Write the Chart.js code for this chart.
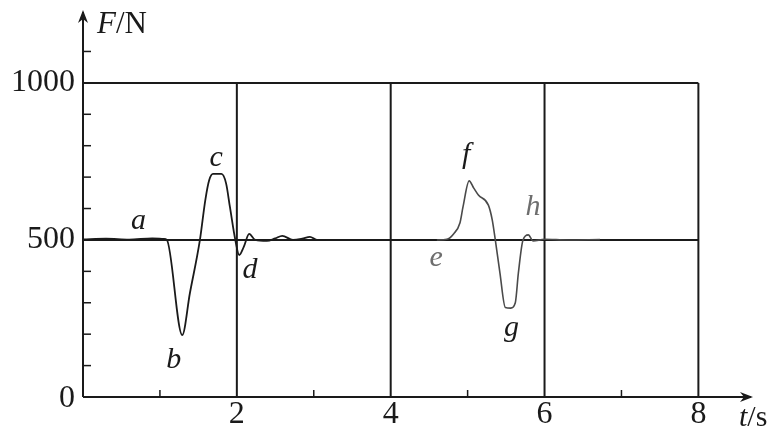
<!DOCTYPE html>
<html>
<head>
<meta charset="utf-8">
<script src="https://cdn.jsdelivr.net/npm/chart.js@4/dist/chart.umd.min.js"></script>
<style>
  body { margin: 0; background: #fff; }
  #wrap { width: 773px; height: 432px; }
</style>
</head>
<body>
<div id="wrap"><canvas id="myChart" width="773" height="432"></canvas></div>
<script>
'use strict';
// first pulse: a -> b -> c -> d
let timeA = [0, 0.3, 0.6, 0.9, 1.05, 1.09, 1.29, 1.39, 1.52, 1.59, 1.64, 1.69, 1.8, 1.86, 1.91, 1.98, 2.03, 2.09, 2.16, 2.24, 2.39, 2.5, 2.59, 2.73, 2.85, 2.95, 3.04, 3.15];
let forceA = [502, 504, 501, 505, 503, 500, 197, 331, 500, 627, 690, 710, 710, 680, 605, 500, 452, 478, 519, 500, 497, 505, 513, 500, 504, 510, 500, 500];
// second pulse: e -> f -> g -> h
let timeB = [4.6, 4.73, 4.82, 4.9, 4.94, 5.02, 5.08, 5.14, 5.27, 5.32, 5.36, 5.42, 5.49, 5.56, 5.62, 5.66, 5.72, 5.79, 5.85, 6.0, 6.3, 6.72];
let forceB = [500, 502, 520, 554, 605, 688, 665, 643, 611, 564, 500, 395, 285, 283, 300, 395, 500, 516, 497, 502, 500, 501];

let xTicks = [2, 4, 6, 8];
let xMinor = [1, 3, 5, 7];
let yTicks = [500, 1000];
let yMinor = [100, 200, 300, 400, 600, 700, 800, 900, 1100];
let pointNames = ['a', 'b', 'c', 'd', 'e', 'f', 'g', 'h'];
let pointT = [0.72, 1.18, 1.73, 2.17, 4.59, 4.98, 5.57, 5.85];
let pointF = [560, 118, 761, 404, 443, 771, 220, 605];

function toXY(ts, fs){
    let out = [];
    for (let i = 0; i < ts.length; i++){
        out.push({x: ts[i], y: fs[i]});
    }
    return out;
}

let ink = '#1a1a1a';
let serif = '"Liberation Serif", "DejaVu Serif", serif';

let axesPlugin = {
    id: 'axesPlugin',
    beforeDatasetsDraw(chart){
        let ctx = chart.ctx;
        let xs = chart.scales.x;
        let ys = chart.scales.y;
        let area = chart.chartArea;
        let x0 = xs.getPixelForValue(0);
        let y0 = ys.getPixelForValue(0);
        ctx.save();
        ctx.strokeStyle = ink;
        ctx.lineWidth = 2;
        // grid lines
        for (let i = 0; i < yTicks.length; i++){
            let yy = ys.getPixelForValue(yTicks[i]);
            ctx.beginPath();
            ctx.moveTo(x0, yy);
            ctx.lineTo(xs.getPixelForValue(8), yy);
            ctx.stroke();
        }
        for (let i = 0; i < xTicks.length; i++){
            let xx = xs.getPixelForValue(xTicks[i]);
            ctx.beginPath();
            ctx.moveTo(xx, y0);
            ctx.lineTo(xx, ys.getPixelForValue(1000));
            ctx.stroke();
        }
        // axes
        ctx.beginPath();
        ctx.moveTo(x0, y0);
        ctx.lineTo(area.right - 2, y0);
        ctx.moveTo(x0, y0);
        ctx.lineTo(x0, area.top + 2);
        ctx.stroke();
        // arrows
        ctx.fillStyle = ink;
        ctx.beginPath();
        ctx.moveTo(area.right, y0);
        ctx.lineTo(area.right - 13, y0 - 5);
        ctx.lineTo(area.right - 9, y0);
        ctx.lineTo(area.right - 13, y0 + 5);
        ctx.closePath();
        ctx.fill();
        ctx.beginPath();
        ctx.moveTo(x0, area.top);
        ctx.lineTo(x0 - 5, area.top + 13);
        ctx.lineTo(x0, area.top + 9);
        ctx.lineTo(x0 + 5, area.top + 13);
        ctx.closePath();
        ctx.fill();
        // minor ticks
        ctx.lineWidth = 1.5;
        for (let i = 0; i < yMinor.length; i++){
            let yy = ys.getPixelForValue(yMinor[i]);
            ctx.beginPath();
            ctx.moveTo(x0, yy);
            ctx.lineTo(x0 + 8, yy);
            ctx.stroke();
        }
        for (let i = 0; i < xMinor.length; i++){
            let xx = xs.getPixelForValue(xMinor[i]);
            ctx.beginPath();
            ctx.moveTo(xx, y0);
            ctx.lineTo(xx, y0 - 7);
            ctx.stroke();
        }
        ctx.restore();
    },
    afterDatasetsDraw(chart){
        let ctx = chart.ctx;
        let xs = chart.scales.x;
        let ys = chart.scales.y;
        let x0 = xs.getPixelForValue(0);
        let y0 = ys.getPixelForValue(0);
        ctx.save();
        ctx.fillStyle = ink;
        ctx.font = '32px ' + serif;
        ctx.textBaseline = 'middle';
        ctx.textAlign = 'right';
        for (let i = 0; i < yTicks.length; i++){
            ctx.fillText(String(yTicks[i]), x0 - 8, ys.getPixelForValue(yTicks[i]));
        }
        ctx.fillText('0', x0 - 8, y0 + 2);
        ctx.textAlign = 'center';
        for (let i = 0; i < xTicks.length; i++){
            ctx.fillText(String(xTicks[i]), xs.getPixelForValue(xTicks[i]), y0 + 18);
        }
        // axis titles
        ctx.textAlign = 'left';
        ctx.font = 'italic 31px ' + serif;
        ctx.fillText('F', x0 + 14, 25);
        let fw = ctx.measureText('F').width;
        ctx.font = '31px ' + serif;
        ctx.fillText('/N', x0 + 14 + fw, 25);
        ctx.font = 'italic 30px ' + serif;
        ctx.fillText('t', 739, y0 + 21);
        let tw = ctx.measureText('t').width;
        ctx.font = '30px ' + serif;
        ctx.fillText('/s', 739 + tw, y0 + 21);
        // point names
        ctx.font = 'italic 30px ' + serif;
        ctx.textAlign = 'center';
        for (let i = 0; i < pointNames.length; i++){
            ctx.fillStyle = (pointNames[i] === 'e' || pointNames[i] === 'h') ? '#6e6e6e' : ink;
            ctx.fillText(pointNames[i], xs.getPixelForValue(pointT[i]), ys.getPixelForValue(pointF[i]));
        }
        ctx.restore();
    }
};

let ctx = document.getElementById('myChart').getContext('2d');
let myChart = new Chart(ctx, {
    type: 'line',
    data: {
        datasets: [{
            data: toXY(timeA, forceA),
            borderColor: ink,
            borderWidth: 1.8,
            pointRadius: 0,
            cubicInterpolationMode: 'monotone'
        }, {
            data: toXY(timeB, forceB),
            borderColor: '#4a4a4a',
            borderWidth: 1.6,
            pointRadius: 0,
            cubicInterpolationMode: 'monotone'
        }]
    },
    options: {
        responsive: false,
        animation: false,
        layout: { padding: { left: 83, top: 10, right: 20, bottom: 35 } },
        plugins: { legend: { display: false }, tooltip: { enabled: false } },
        scales: {
            x: { type: 'linear', min: 0, max: 8.71, display: false },
            y: { min: 0, max: 1232, display: false }
        }
    },
    plugins: [axesPlugin]
});
</script>
</body>
</html>
